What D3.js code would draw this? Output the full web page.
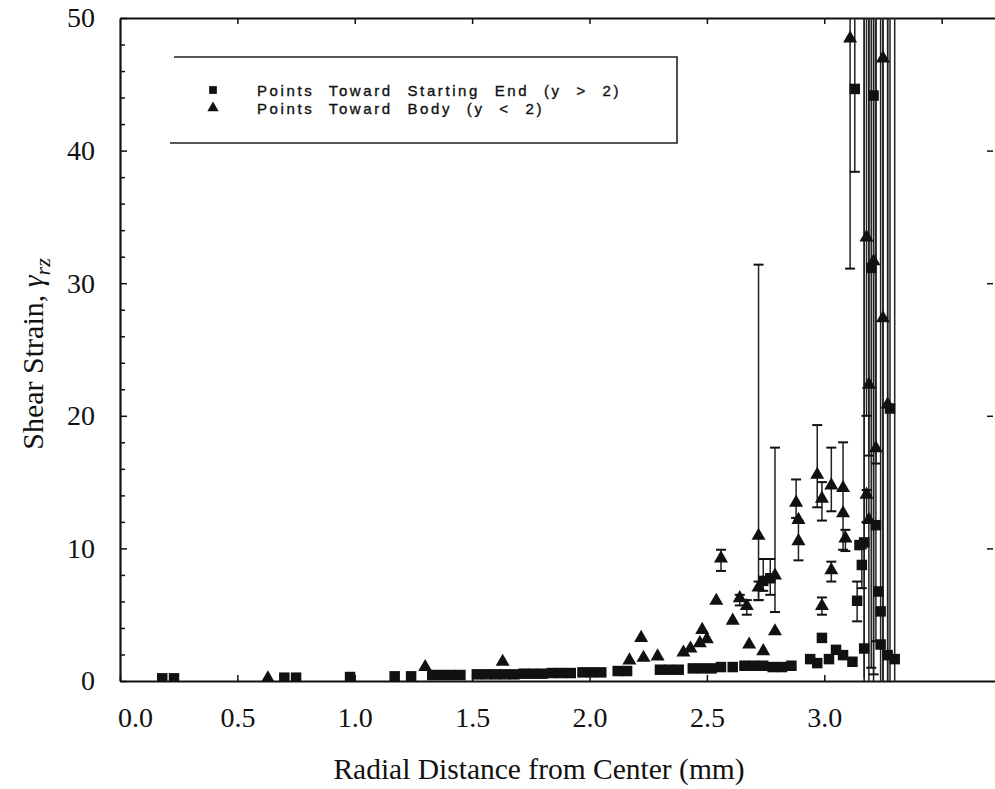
<!DOCTYPE html>
<html>
<head>
  <title>Shear strain vs radial distance</title>
  <script src="https://d3js.org/d3.v7.min.js"></script>
  <style>
    body { margin: 0; background: #fff; }
    .axis text { font-family: "Liberation Serif", "Times New Roman", serif; font-size: 28px; fill: #111; }
    .axis path, .axis line { stroke: #111; }
  </style>
</head>
<body>
  <svg id="chart"></svg>

  <script>
    // tick labels
    const xTicks = [0, 0.5, 1.0, 1.5, 2.0, 2.5, 3.0];
    const yTicks = [0, 10, 20, 30, 40, 50];
    const yMinor = [2, 4, 6, 8, 12, 14, 16, 18, 22, 24, 26, 28, 32, 34, 36, 38, 42, 44, 46, 48];

    // Points Toward Starting End (y > 2): [r, strain, errLo, errHi]
    const startEnd = [
      [0.18, 0.05], [0.23, 0.05], [0.70, 0.1], [0.75, 0.1], [0.98, 0.15], [1.17, 0.2], [1.24, 0.2],
      [1.33, 0.3], [1.37, 0.3], [1.41, 0.3], [1.45, 0.3],
      [1.52, 0.35], [1.56, 0.35], [1.60, 0.35], [1.64, 0.35], [1.68, 0.35], [1.72, 0.4], [1.76, 0.4], [1.80, 0.4],
      [1.84, 0.45], [1.88, 0.45], [1.92, 0.45], [1.97, 0.5], [2.01, 0.5], [2.05, 0.5], [2.12, 0.6], [2.16, 0.6],
      [2.30, 0.7], [2.34, 0.7], [2.38, 0.7], [2.44, 0.8], [2.48, 0.8], [2.52, 0.8], [2.56, 0.9],
      [2.61, 0.9], [2.66, 1.0], [2.70, 1.0], [2.74, 1.0], [2.78, 0.9], [2.82, 0.9], [2.86, 1.0],
      [2.74, 7.4, 6.8, 9.2], [2.77, 7.6, 6.5, 9.2],
      [2.94, 1.5], [2.97, 1.2], [2.99, 3.1], [3.02, 1.5], [3.05, 2.2], [3.08, 1.8], [3.12, 1.3],
      [3.14, 5.9, 4.5, 7.5], [3.16, 8.6, 7.0, 10.0], [3.15, 10.1], [3.17, 10.3, 0.2, 60],
      [3.22, 11.6, 3.0, 60], [3.23, 6.6], [3.24, 5.1], [3.17, 2.3, 0, 60], [3.24, 2.6, 0, 60],
      [3.28, 20.4, 0, 60], [3.13, 44.5, 38.4, 60], [3.21, 44.0, 0.5, 60], [3.20, 31.0, 1.0, 60],
      [3.27, 1.8, 0, 60], [3.30, 1.5, 0, 60]
    ];

    // Points Toward Body (y < 2): [r, strain, errLo, errHi]
    const towardBody = [
      [0.63, 0.05], [1.30, 0.9], [1.63, 1.3],
      [2.17, 1.4], [2.22, 3.1], [2.23, 1.6], [2.29, 1.7], [2.40, 2.0], [2.43, 2.3], [2.47, 2.7],
      [2.48, 3.7], [2.50, 3.0], [2.54, 5.9], [2.56, 9.1, 8.3, 9.9], [2.61, 4.4],
      [2.64, 6.1, 5.7, 6.5], [2.67, 5.5, 5.0, 6.1], [2.68, 2.6], [2.72, 10.8, 6.1, 31.4],
      [2.74, 2.1], [2.72, 6.9, 6.1, 7.5], [2.79, 3.6], [2.79, 7.8, 5.2, 17.6],
      [2.88, 13.3, 12.3, 15.2], [2.89, 12.0], [2.89, 10.4, 9.1, 12.1],
      [2.97, 15.4, 13.1, 19.3], [2.99, 13.6, 12.1, 15.0], [2.99, 5.5, 5.0, 6.3],
      [3.03, 14.6, 12.8, 17.6], [3.03, 8.2, 7.5, 9.0], [3.08, 14.4, 9.9, 18.0], [3.08, 12.5],
      [3.09, 10.6, 9.8, 11.4], [3.11, 48.3, 31.1, 60],
      [3.19, 22.2, 17.0, 60], [3.18, 13.9, 12.0, 14.4], [3.22, 17.4, 16.4, 60],
      [3.18, 33.3, 20.0, 60], [3.21, 31.5, 0, 60], [3.25, 46.8, 0, 60], [3.25, 27.2, 0, 60],
      [3.27, 20.7, 0, 60], [3.19, 12.0, 0, 60]
    ];

    const width = 995, height = 789;
    const plotL = 120, plotR = 996, plotT = 18, plotB = 681;

    const svg = d3.select("#chart")
                  .attr("width", width)
                  .attr("height", height);

    const x = d3.scaleLinear().domain([0, 3.7315]).range([plotL, plotR]);
    const y = d3.scaleLinear().domain([0, 50]).range([plotB, plotT]);

    svg.append("clipPath").attr("id", "plot")
       .append("rect")
       .attr("x", plotL).attr("y", plotT)
       .attr("width", plotR - plotL).attr("height", plotB - plotT);

    // axes
    const gx = svg.append("g").attr("class", "axis")
       .attr("transform", `translate(0,${plotB})`)
       .call(d3.axisBottom(x).tickValues(xTicks).tickSizeInner(-6).tickSizeOuter(0)
             .tickPadding(26).tickFormat(d3.format(".1f")));
    gx.select(".tick text").attr("dx", 15);

    svg.append("g").attr("class", "axis")
       .attr("transform", `translate(0,${plotT})`)
       .call(d3.axisTop(x).tickValues([0.5, 1, 1.5, 2, 2.5, 3, 3.5]).tickSizeInner(-6)
             .tickSizeOuter(0).tickFormat(""));

    svg.append("g").attr("class", "axis")
       .attr("transform", `translate(${plotL},0)`)
       .call(d3.axisLeft(y).tickValues(yTicks).tickSizeInner(-7).tickSizeOuter(0).tickPadding(25));

    svg.append("g").attr("class", "axis")
       .attr("transform", `translate(${plotL},0)`)
       .call(d3.axisLeft(y).tickValues(yMinor).tickSizeInner(-5).tickSizeOuter(0).tickFormat(""))
       .select(".domain").remove();

    svg.append("g").attr("class", "axis")
       .attr("transform", `translate(${plotR - 3},0)`)
       .call(d3.axisRight(y).tickValues([10, 20, 30, 40]).tickSizeInner(-6).tickSizeOuter(0).tickFormat(""))
       .select(".domain").remove();

    svg.selectAll(".axis .domain").attr("stroke-width", 2.2);
    svg.selectAll(".axis .tick line").attr("stroke-width", 1.5);

    // axis titles
    svg.append("text")
       .attr("x", 539).attr("y", 779)
       .attr("text-anchor", "middle")
       .style("font-family", "Liberation Serif, Times New Roman, serif")
       .style("font-size", "29.5px")
       .attr("fill", "#111")
       .text("Radial Distance from Center (mm)");

    const yTitle = svg.append("text")
       .attr("transform", "translate(43,354) rotate(-90)")
       .attr("text-anchor", "middle")
       .style("font-family", "Liberation Serif, Times New Roman, serif")
       .style("font-size", "30px")
       .attr("fill", "#111");
    yTitle.append("tspan").text("Shear Strain, ");
    yTitle.append("tspan").style("font-style", "italic").text("γ");
    yTitle.append("tspan").attr("dy", 7).style("font-style", "italic").style("font-size", "22px").text("rz");

    // error bars
    const plot = svg.append("g").attr("clip-path", "url(#plot)");
    const withErr = startEnd.concat(towardBody).filter(d => d.length > 2);

    plot.selectAll("line.bar")
        .data(withErr)
        .enter()
        .append("line")
        .attr("class", "bar")
        .attr("x1", d => x(d[0])).attr("x2", d => x(d[0]))
        .attr("y1", d => y(d[2])).attr("y2", d => y(d[3]))
        .attr("stroke", "#222").attr("stroke-width", 1.5);

    const caps = [];
    withErr.forEach(d => { caps.push([d[0], d[2]]); caps.push([d[0], d[3]]); });
    plot.selectAll("line.cap")
        .data(caps.filter(c => c[1] > 0.3 && c[1] < 50))
        .enter()
        .append("line")
        .attr("class", "cap")
        .attr("x1", d => x(d[0]) - 5).attr("x2", d => x(d[0]) + 5)
        .attr("y1", d => y(d[1])).attr("y2", d => y(d[1]))
        .attr("stroke", "#111").attr("stroke-width", 2);

    // markers
    const square = d3.symbol().type(d3.symbolSquare).size(110);
    const triangle = d3.symbol().type(d3.symbolTriangle).size(85);

    plot.selectAll("path.sq")
        .data(startEnd)
        .enter()
        .append("path")
        .attr("class", "sq")
        .attr("d", square)
        .attr("transform", d => `translate(${x(d[0])},${y(d[1]) - 2})`)
        .attr("fill", "#111");

    plot.selectAll("path.tri")
        .data(towardBody)
        .enter()
        .append("path")
        .attr("class", "tri")
        .attr("d", triangle)
        .attr("transform", d => `translate(${x(d[0])},${y(d[1]) - 2})`)
        .attr("fill", "#111");

    // legend
    svg.append("path")
       .attr("d", "M174,57H677V143H170")
       .attr("fill", "none").attr("stroke", "#222").attr("stroke-width", 1.6);

    const legend = [
      { label: "Points Toward Starting End (y > 2)", symbol: "square", ly: 90 },
      { label: "Points Toward Body (y < 2)", symbol: "triangle", ly: 108 }
    ];
    const legSym = {
      square: d3.symbol().type(d3.symbolSquare).size(60),
      triangle: d3.symbol().type(d3.symbolTriangle).size(55)
    };

    svg.selectAll("path.leg")
       .data(legend)
       .enter()
       .append("path")
       .attr("class", "leg")
       .attr("d", d => legSym[d.symbol]())
       .attr("transform", d => `translate(213,${d.ly})`)
       .attr("fill", "#111");

    svg.selectAll("text.leg")
       .data(legend)
       .enter()
       .append("text")
       .attr("class", "leg")
       .attr("x", 257).attr("y", d => d.ly + 5.5)
       .style("font-family", "Liberation Sans, Arial, sans-serif")
       .style("font-size", "15px")
       .style("letter-spacing", "2.6px")
       .style("word-spacing", "8px")
       .attr("fill", "#111")
       .attr("stroke", "#111").attr("stroke-width", 0.35)
       .text(d => d.label);
  </script>
</body>
</html>
